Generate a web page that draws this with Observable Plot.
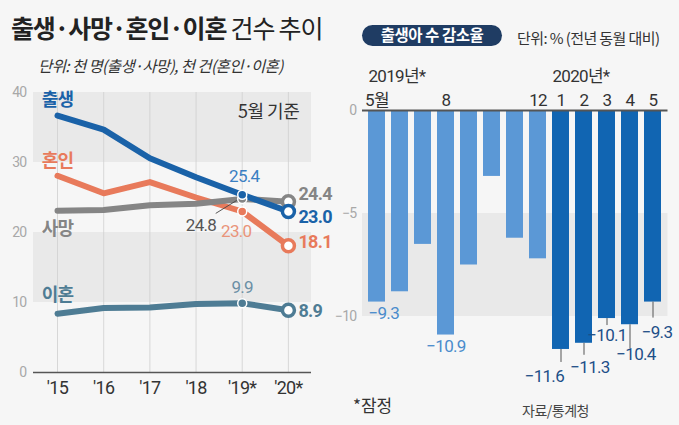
<!DOCTYPE html>
<html><head><meta charset="utf-8">
<script src="https://cdn.jsdelivr.net/npm/d3@7"></script>
<script src="https://cdn.jsdelivr.net/npm/@observablehq/plot@0.6"></script>
<style>
body{margin:0;background:#f6f6f6;}
#wrap{position:relative;width:679px;height:425px;overflow:hidden;background:#f6f6f6;font-family:"Noto Sans CJK KR",sans-serif;color:#222;}
.abs{position:absolute;white-space:nowrap;line-height:1;}
#left,#right{position:absolute;top:55px;}
#left{left:0;} #right{left:340px;}
svg{overflow:visible;}
svg text{letter-spacing:-0.7px;}
</style></head><body><div id="wrap">
<div class="abs" style="left:11px;top:15px;font-size:25px;letter-spacing:-1.2px;color:#222;"><b>출생·사망·혼인·이혼</b> 건수 추이</div>
<div class="abs" style="left:38px;top:58px;font-size:15.5px;font-style:italic;letter-spacing:-0.6px;color:#333;">단위: 천 명(출생·사망), 천 건(혼인·이혼)</div>
<div class="abs" style="left:362px;top:25px;width:140px;height:21px;border-radius:11px;background:#1f3c63;"></div>
<div class="abs" style="left:362px;top:27px;width:140px;text-align:center;font-size:15.5px;font-weight:bold;color:#fff;letter-spacing:-0.5px;">출생아 수 감소율</div>
<div class="abs" style="left:517px;top:30px;font-size:15px;color:#333;letter-spacing:-0.6px;">단위: % (전년 동월 대비)</div>
<div id="left"></div>
<div id="right"></div>
<div class="abs" style="left:238px;top:101px;font-size:18px;color:#333;letter-spacing:-0.5px;">5월 기준</div>
<div class="abs" style="left:353px;top:396px;font-size:17px;color:#333;">*잠정</div>
<div class="abs" style="left:522px;top:403px;font-size:14px;color:#444;letter-spacing:-0.5px;">자료/통계청</div>
</div>
<script>
// ---------- data ----------
const years = [2015, 2016, 2017, 2018, 2019, 2020];
const yearLabels = ["'15", "'16", "'17", "'18", "'19*", "'20*"];
const births    = [36.7, 34.7, 30.6, 27.9, 25.4, 23.0];
const marriages = [28.1, 25.6, 27.2, 25.0, 23.0, 18.1];
const deaths    = [23.1, 23.2, 23.9, 24.1, 24.8, 24.4];
const divorces  = [8.4, 9.2, 9.3, 9.8, 9.9, 8.9];
const seriesNames = ["혼인", "사망", "출생", "이혼"];

const months = ["2019-05","2019-06","2019-07","2019-08","2019-09","2019-10","2019-11","2019-12","2020-01","2020-02","2020-03","2020-04","2020-05"];
const monthLabels = ["5월","","","8","","","","12","1","2","3","4","5"];
const yearTitles = ["2019년*", "2020년*"];
const declineRates = [-9.3, -8.8, -6.5, -10.9, -7.5, -3.2, -6.2, -7.2, -11.6, -11.3, -10.1, -10.4, -9.3];
const labeledRates = ["2019-05", "2019-08", "2020-01", "2020-02", "2020-03", "2020-04", "2020-05"];

// ---------- styling ----------
const NUM = "Roboto,'Noto Sans CJK KR',sans-serif";
const seriesColor = {"출생": "#1a62a8", "혼인": "#e87a5b", "사망": "#858585", "이혼": "#4e7c94"};
const softColor   = {"출생": "#3a7fc2", "혼인": "#e9947a", "사망": "#555555", "이혼": "#6b8fa5"};
const seriesValues = {"출생": births, "혼인": marriages, "사망": deaths, "이혼": divorces};
const nameOffset = {"출생": -15, "혼인": -15, "사망": 18, "이혼": -18};
const v19Layout = {"출생": {dx: 2, dy: -18, a: "middle"}, "혼인": {dx: -6, dy: 20, a: "middle"},
                   "사망": {dx: -26, dy: 27, a: "end"}, "이혼": {dx: 0, dy: -16, a: "middle"}};
const v20Layout = {"출생": {dy: 6}, "혼인": {dy: -4}, "사망": {dy: -7}, "이혼": {dy: 1}};

const rows = [];
for (const s of seriesNames) years.forEach((y, j) => rows.push({series: s, year: y, value: seriesValues[s][j]}));
const fmt = d3.format(".1f");

const left = Plot.plot({
  width: 340, height: 360,
  marginTop: 37, marginBottom: 43, marginLeft: 33, marginRight: 29,
  style: {background: "transparent", fontFamily: NUM, overflow: "visible"},
  x: {type: "linear", domain: [2014.48, 2020.5], axis: null},
  y: {domain: [0, 40], axis: null},
  color: {domain: Object.keys(seriesColor), range: Object.values(seriesColor)},
  marks: [
    Plot.rect([{lo: 10, hi: 20}, {lo: 30, hi: 40}], {y1: "lo", y2: "hi", fill: "#e9e9e9"}),
    Plot.ruleX(years, {y1: 0, y2: 40, stroke: "#cfcfcf", strokeWidth: 0.8}),
    Plot.axisY([0, 10, 20, 30, 40], {tickSize: 0, tickPadding: 7, fontSize: 14, fill: "#a8a8a8", label: null, tickFormat: d3.format("d")}),
    Plot.axisX(years, {tickSize: 0, tickPadding: 9, fontSize: 18, fill: "#333", label: null, tickFormat: d => yearLabels[years.indexOf(d)]}),
    Plot.ruleY([0], {stroke: "#555", strokeWidth: 1.5}),
    Plot.line(rows, {x: "year", y: "value", z: "series", stroke: "series", strokeWidth: 6, strokeLinejoin: "round", strokeLinecap: "round"}),
    Plot.dot(rows.filter(d => d.year === 2019), {x: "year", y: "value", r: 4.5, fill: "series", stroke: "white", strokeWidth: 1.5}),
    Plot.dot(rows.filter(d => d.year === 2020), {x: "year", y: "value", r: 6, fill: "white", stroke: "series", strokeWidth: 3.5}),
    ...seriesNames.map(s => Plot.text(rows.filter(d => d.series === s && d.year === 2015), {
      x: "year", y: "value", text: "series", dy: nameOffset[s], fill: seriesColor[s],
      fontSize: 18, fontWeight: "bold", fontFamily: "'Noto Sans CJK KR',sans-serif"})),
    ...seriesNames.map(s => Plot.text(rows.filter(d => d.series === s && d.year === 2019), {
      x: "year", y: "value", text: d => fmt(d.value), dx: v19Layout[s].dx, dy: v19Layout[s].dy,
      textAnchor: v19Layout[s].a, fill: softColor[s], fontSize: 17})),
    ...seriesNames.map(s => Plot.text(rows.filter(d => d.series === s && d.year === 2020), {
      x: "year", y: "value", text: d => fmt(d.value), dx: 10, dy: v20Layout[s].dy,
      textAnchor: "start", fill: seriesColor[s], fontSize: 18, fontWeight: "bold"}))
  ]
});
document.getElementById("left").append(left);

// leader line for the 24.8 label
{
  const svg = d3.select(left);
  const xs = left.scale("x"), ys = left.scale("y");
  const px = xs.apply(2019), py = ys.apply(deaths[4]);
  svg.append("line").attr("x1", px - 5).attr("y1", py + 2).attr("x2", px - 26).attr("y2", py + 15)
    .attr("stroke", "#444").attr("stroke-width", 0.9);
}

// ---------- right: bars ----------
const bars = months.map((m, i) => ({month: m, year: m.slice(0, 4), value: declineRates[i]}));
const barLayout = {
  "2019-05": {dx: -8.5, dy: 11, a: "start", lead: 0},
  "2019-08": {dx: 0, dy: 12, a: "middle", lead: 0},
  "2020-01": {dx: 3, dy: 27, a: "end", lead: 13},
  "2020-02": {dx: 6, dy: 24, a: "middle", lead: 12},
  "2020-03": {dx: 0, dy: 17, a: "middle", lead: 7},
  "2020-04": {dx: 6, dy: 30, a: "middle", lead: 24},
  "2020-05": {dx: 4, dy: 30, a: "middle", lead: 16}
};
const pxPerUnit = 20.6;
const right = Plot.plot({
  width: 339, height: 360,
  marginTop: 55, marginBottom: 47.5, marginLeft: 22, marginRight: 11.5,
  style: {background: "transparent", fontFamily: NUM, overflow: "visible"},
  x: {type: "band", domain: months, padding: 0.27, axis: null},
  y: {domain: [-12.5, 0], axis: null},
  color: {domain: ["2019", "2020"], range: ["#5b98d6", "#1165b2"]},
  marks: [
    Plot.rect([{lo: -10, hi: -5}], {y1: "lo", y2: "hi", fill: "#e9e9e9"}),
    Plot.axisY([0, -5, -10], {tickSize: 0, tickPadding: 6, fontSize: 14, fill: "#a8a8a8", label: null}),
    Plot.axisX(months, {anchor: "top", tickSize: 0, tickPadding: 5, fontSize: 17, fill: "#333", label: null,
      tickFormat: d => monthLabels[months.indexOf(d)]}),
    Plot.barY(bars, {x: "month", y: "value", fill: "year"}),
    Plot.ruleY([0], {stroke: "#555", strokeWidth: 2}),
    Plot.text([months[0], months[8]], {x: d => d, text: (d, i) => yearTitles[i], frameAnchor: "top",
      dy: -41, dx: -8.5, textAnchor: "start", fontSize: 17, fill: "#333"}),
    Plot.ruleX(bars.filter(d => barLayout[d.month] && barLayout[d.month].lead > 0), {
      x: "month", y1: "value", y2: d => d.value - barLayout[d.month].lead / pxPerUnit,
      stroke: "#555", strokeWidth: 1}),
    ...bars.filter(d => labeledRates.includes(d.month)).map(d => Plot.text([d], {
      x: "month", y: "value", text: e => fmt(e.value), dx: barLayout[d.month].dx, dy: barLayout[d.month].dy,
      textAnchor: barLayout[d.month].a, fontSize: 17,
      fill: d.year === "2019" ? "#4a8ccc" : "#1d4f88"}))
  ]
});
document.getElementById("right").append(right);
</script>
</body></html>
